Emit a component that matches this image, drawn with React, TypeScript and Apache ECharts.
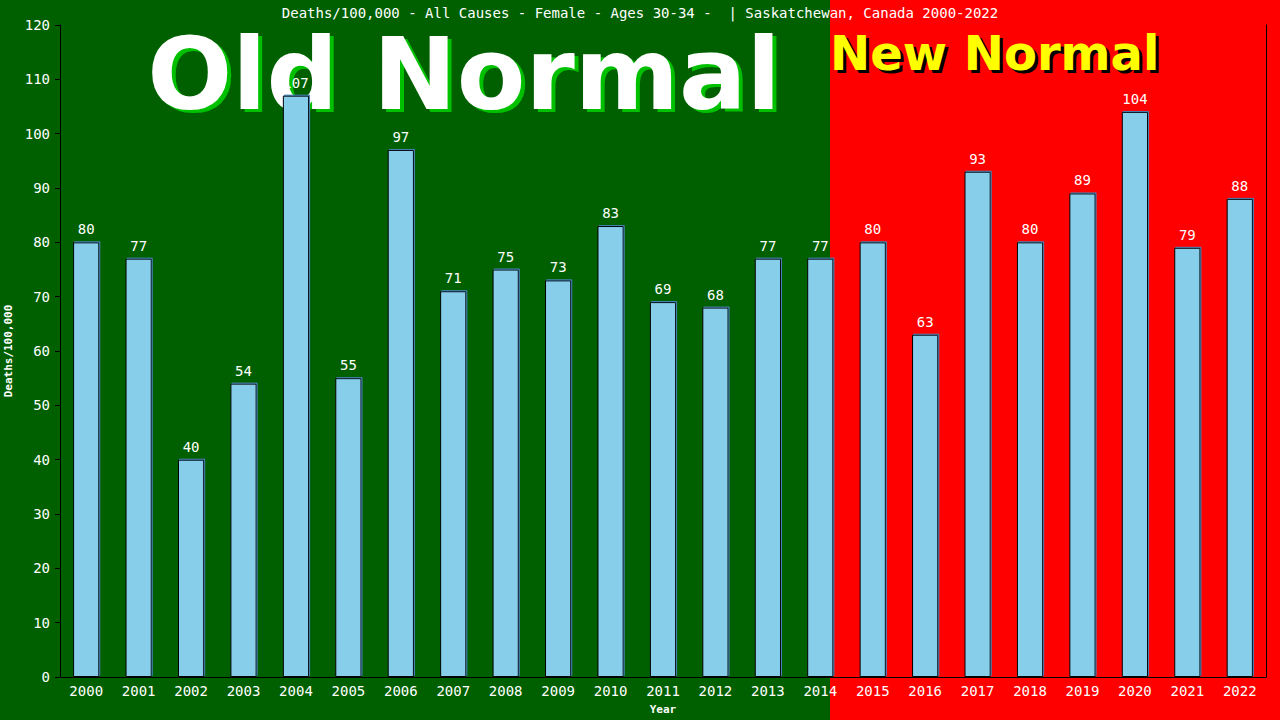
import React, { useEffect, useRef } from "react";
import * as echarts from "echarts";

const years = ["2000","2001","2002","2003","2004","2005","2006","2007","2008","2009","2010","2011","2012","2013","2014","2015","2016","2017","2018","2019","2020","2021","2022"];
const deaths = [80,77,40,54,107,55,97,71,75,73,83,69,68,77,77,80,63,93,80,89,104,79,88];
const titleText = "Deaths/100,000 - All Causes - Female - Ages 30-34 -  | Saskatchewan, Canada 2000-2022";
const yTicks = { min: 0, max: 120, interval: 10 };

const MONO = "'DejaVu Sans Mono', monospace";
const SANS = "'DejaVu Sans', Verdana, sans-serif";

export default function App() {
  const ref = useRef<HTMLDivElement>(null);
  useEffect(() => {
    if (!ref.current) return;
    const chart = echarts.init(ref.current, null, { renderer: "svg" });
    chart.setOption({
      animation: false,
      backgroundColor: "#006000",
      title: {
        text: titleText,
        left: "center",
        top: 1,
        textStyle: { color: "#ffffff", fontFamily: MONO, fontSize: 14, fontWeight: "normal" },
      },
      graphic: [
        { type: "rect", z: -10, shape: { x: 830, y: 0, width: 450, height: 720 }, style: { fill: "#ff0000" } },
        { type: "text", z: -5, x: 468, y: 77, style: { text: "Old Normal", fill: "#00c000", font: `bold 100px ${SANS}`, textAlign: "center", textVerticalAlign: "middle" } },
        { type: "text", z: -4, x: 464, y: 74, style: { text: "Old Normal", fill: "#ffffff", font: `bold 100px ${SANS}`, textAlign: "center", textVerticalAlign: "middle" } },
        { type: "text", z: -5, x: 833, y: 56, style: { text: "New Normal", fill: "#000000", font: `bold 48px ${SANS}`, textAlign: "left", textVerticalAlign: "middle" } },
        { type: "text", z: -4, x: 830, y: 53, style: { text: "New Normal", fill: "#ffff00", font: `bold 48px ${SANS}`, textAlign: "left", textVerticalAlign: "middle" } },
      ],
      grid: { left: 60, right: 14, top: 25, bottom: 43, containLabel: false, outerBoundsMode: "none" },
      xAxis: {
        type: "category",
        data: years,
        name: "Year",
        nameLocation: "middle",
        nameGap: 27,
        nameTextStyle: { color: "#ffffff", fontFamily: MONO, fontSize: 11, fontWeight: "bold" },
        axisLine: { lineStyle: { color: "#000000", width: 1 } },
        axisTick: { show: false },
        axisLabel: { color: "#ffffff", fontFamily: MONO, fontSize: 14, margin: 7, interval: 0 },
      },
      yAxis: [
        {
          type: "value",
          min: yTicks.min,
          max: yTicks.max,
          interval: yTicks.interval,
          name: "Deaths/100,000",
          nameLocation: "middle",
          nameGap: 44,
          nameTextStyle: { color: "#ffffff", fontFamily: MONO, fontSize: 11, fontWeight: "bold" },
          axisLine: { show: true, lineStyle: { color: "#000000", width: 1 } },
          axisTick: { show: true, length: 5, lineStyle: { color: "#000000" } },
          axisLabel: { color: "#ffffff", fontFamily: MONO, fontSize: 14, margin: 10 },
          splitLine: { show: false },
        },
        {
          type: "value",
          position: "right",
          min: yTicks.min,
          max: yTicks.max,
          interval: yTicks.interval,
          axisLine: { show: true, lineStyle: { color: "#000000", width: 1 } },
          axisTick: { show: false },
          axisLabel: { show: false },
          splitLine: { show: false },
        },
      ],
      series: [
        {
          type: "bar",
          data: deaths,
          barWidth: "50%",
          itemStyle: {
            color: "#87ceeb",
            borderColor: "#000000",
            borderWidth: 1,
            shadowColor: "#4682b4",
            shadowOffsetX: 1,
            shadowOffsetY: -1,
            shadowBlur: 0,
          },
          label: {
            show: true,
            position: "top",
            distance: 6,
            color: "#ffffff",
            fontFamily: MONO,
            fontSize: 14,
          },
        },
      ],
    });
    return () => chart.dispose();
  }, []);
  return <div ref={ref} style={{ position: "fixed", left: 0, top: 0, width: 1280, height: 720 }} />;
}
